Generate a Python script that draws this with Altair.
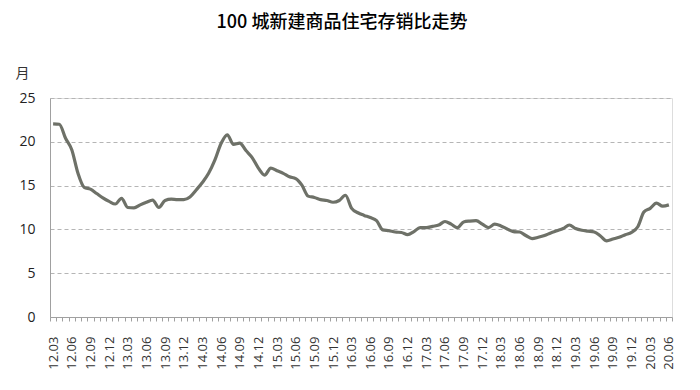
import altair as alt
import pandas as pd

# Monthly categories 2012.03 .. 2020.06
months = [f"{y:02d}.{m:02d}" for y in range(12, 21) for m in range(1, 13)
          if (y, m) >= (12, 3) and (y, m) <= (20, 6)]

ratio = [
    22.05, 22.0, 20.4, 19.1, 16.4, 14.8, 14.6, 14.1, 13.6, 13.2,
    12.9, 13.55, 12.5, 12.45, 12.8, 13.1, 13.35, 12.5, 13.3, 13.45,
    13.4, 13.4, 13.7, 14.5, 15.35, 16.4, 17.9, 19.8, 20.8, 19.7,
    19.85, 19.0, 18.2, 17.0, 16.2, 17.0, 16.7, 16.4, 16.0, 15.8,
    15.05, 13.8, 13.65, 13.4, 13.3, 13.1, 13.3, 13.9, 12.4, 11.9,
    11.6, 11.35, 11.0, 9.95, 9.85, 9.7, 9.65, 9.4, 9.75, 10.2,
    10.2, 10.35, 10.5, 10.9, 10.6, 10.2, 10.85, 10.95, 11.0, 10.6,
    10.2, 10.6, 10.4, 10.05, 9.75, 9.7, 9.3, 8.95, 9.1, 9.3,
    9.6, 9.85, 10.1, 10.5, 10.1, 9.9, 9.8, 9.7, 9.25, 8.7,
    8.9, 9.1, 9.4, 9.65, 10.3, 12.0, 12.4, 13.0, 12.65, 12.8,
]

y_ticks = [0, 5, 10, 15, 20, 25]

df = pd.DataFrame({"month": months, "ratio": ratio})

label_expr = ("indexof(['03','06','09','12'], slice(datum.label, 3)) >= 0 "
              "? datum.label : ''")

chart = alt.Chart(df).mark_line(
    color="#6e7168", strokeWidth=3.2, interpolate="monotone"
).encode(
    x=alt.X("month:O", sort=None,
            scale=alt.Scale(type="band", paddingInner=0, paddingOuter=0),
            axis=alt.Axis(title=None, labelAngle=270, labelExpr=label_expr,
                          labelOverlap=False, labelFont="Open Sans",
                          labelFontSize=13, labelColor="#333333",
                          labelPadding=15, tickSize=4, tickBand="extent",
                          tickColor="#a0a0a0", domainColor="#a0a0a0",
                          grid=False)),
    y=alt.Y("ratio:Q", scale=alt.Scale(domain=[0, 25], nice=False),
            axis=alt.Axis(values=y_ticks, title="月", titleAngle=0,
                          titleAlign="center", titleBaseline="middle",
                          titleX=-28, titleY=-25, titleFont="Noto Sans CJK SC",
                          titleFontSize=14, titleFontWeight="normal",
                          titleColor="#333333",
                          labelFont="Open Sans", labelFontSize=14,
                          labelColor="#222222", labelPadding=15,
                          ticks=False, domainColor="#a0a0a0",
                          grid=True, gridColor="#b5b5b5", gridDash=[4, 3],
                          gridWidth=1)),
).properties(
    width=622,
    height=219,
    title=alt.TitleParams(text="100 城新建商品住宅存销比走势",
                          font="Noto Sans CJK SC", fontSize=18,
                          fontWeight=500, color="#000000",
                          anchor="middle", dx=-19, offset=34),
    autosize=alt.AutoSizeParams(type="none"),
    padding={"left": 42, "top": 90, "right": 20, "bottom": 60},
).configure_view(stroke=None).configure(background="white")

chart.save("out.html", embed_options={"renderer": "svg", "actions": False})
